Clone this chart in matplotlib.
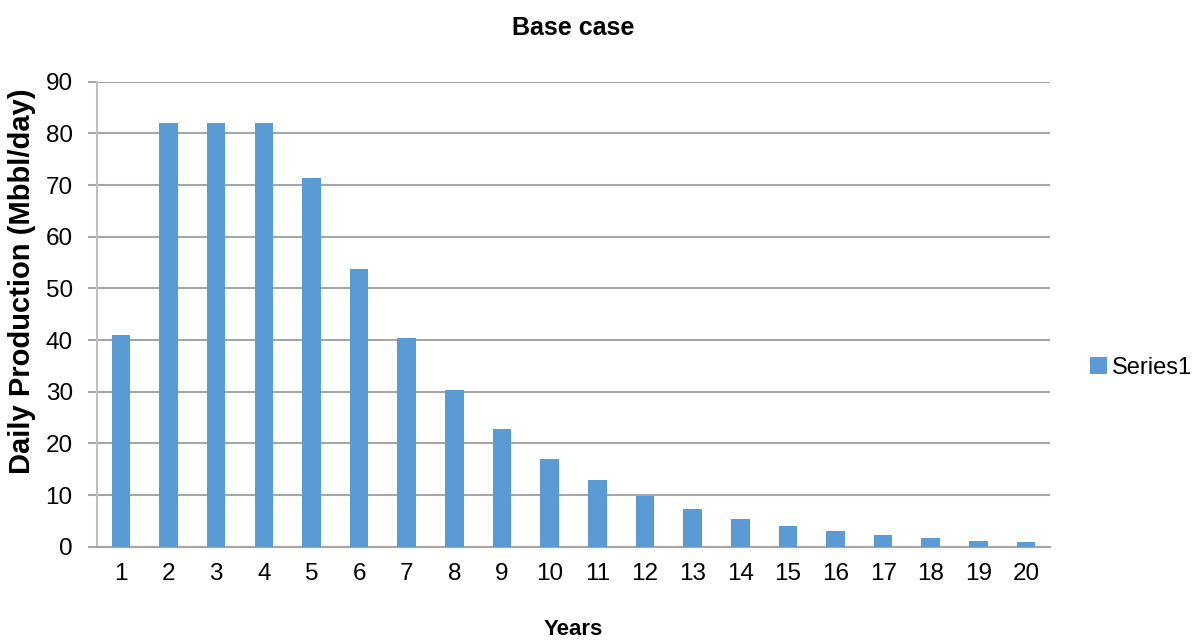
import numpy as np
import matplotlib.pyplot as plt

# -----------------------------
# Data
# -----------------------------

years = [str(i) for i in range(1, 21)]
production = [41.0, 82.1, 82.1, 82.1, 71.4, 53.7, 40.4, 30.3, 22.7, 17.0,
              12.9, 9.8, 7.3, 5.4, 4.0, 3.1, 2.3, 1.6, 1.2, 0.9]
series_name = "Series1"

# -----------------------------
# Figure
# -----------------------------

plt.rcParams['font.family'] = ['Liberation Sans', 'DejaVu Sans']

fig = plt.figure(figsize=(12.04, 6.44), dpi=100)
ax = fig.add_axes([0.0806, 0.151, 0.7914, 0.722])

x = np.arange(len(years))
ax.bar(x, production, width=0.39, color='#5b9bd5', label=series_name, zorder=3)

ax.set_xlim(-0.5, len(years) - 0.5)
ax.set_ylim(0, 90)
ax.set_yticks(np.arange(0, 91, 10))
ax.set_xticks(x)
ax.set_xticklabels(years)

ax.grid(axis='y', color='#a6a6a6', linewidth=1.5, zorder=0)
for side in ['top', 'right']:
    ax.spines[side].set_visible(False)
ax.spines['left'].set_color('#bfbfbf')
ax.spines['left'].set_linewidth(1.5)
ax.spines['bottom'].set_color('#a6a6a6')
ax.spines['bottom'].set_linewidth(1.5)

ax.tick_params(axis='y', length=6.5, width=1.5, color='#a6a6a6', labelsize=17.5, pad=11)
ax.tick_params(axis='x', length=0, labelsize=17.5, pad=12)

ax.set_title("Base case", fontsize=18, fontweight='bold', pad=34)
ax.set_ylabel("Daily Production (Mbbl/day)", fontsize=21, fontweight='bold')
ax.yaxis.set_label_coords(-0.064, 0.572)
ax.set_xlabel("Years", fontsize=16, fontweight='bold', labelpad=24)

ax.legend(loc='center left', bbox_to_anchor=(0.9053, 0.4286),
          bbox_transform=fig.transFigure, frameon=False,
          fontsize=17, handlelength=0.72, handleheight=0.72, handletextpad=0.2,
          borderpad=0, borderaxespad=0)

fig.savefig("out.png", dpi=100)
